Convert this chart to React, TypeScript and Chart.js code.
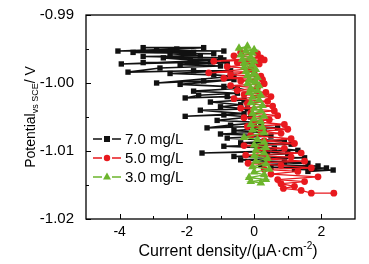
import { useEffect, useRef } from 'react';
import { Chart, registerables } from 'chart.js';
Chart.register(...registerables);

const FONT = '"Liberation Sans", Arial, sans-serif';

// 7.0 mg/L
const blackX = [-3.3, -1.5, -2.3, -4.05, -0.9, -2.9, -1.8, -3.6, -1.2, -2.5, -1.6, -3.3, -1.0, -2.7, -1.9, -0.9, -3.95, -1.3, -3.3, -0.8, -2.2, -1.0, -2.8, -3.75, -1.8, -0.7, -2.5, -1.2, -0.6, -2.9, -1.5, -0.6, -2.2, -0.9, -0.5, -1.8, -0.5, -1.65, -2.05, -0.8, -0.3, -1.3, -0.4, -1.0, -0.2, -1.6, -0.3, -2.05, -0.9, -0.1, -1.1, 0.2, -0.7, -1.4, 0.0, 0.7, -0.6, 0.3, -1.0, 0.5, -0.8, 0.9, -0.4, 1.1, -0.9, 0.6, 1.3, -1.55, 0.4, 1.0, -0.6, 1.5, -0.4, 0.9, 1.6, 0.2, 1.9, 0.5, 2.15, 1.2, 2.35, 1.6];
const blackY = [-0.9948, -0.9948, -0.9950, -0.9953, -0.9953, -0.9952, -0.9955, -0.9955, -0.9957, -0.9957, -0.9960, -0.9961, -0.9963, -0.9963, -0.9966, -0.9966, -0.9972, -0.9969, -0.9970, -0.9970, -0.9973, -0.9975, -0.9978, -0.9984, -0.9982, -0.9982, -0.9986, -0.9988, -0.9990, -1.0000, -0.9997, -0.9995, -1.0002, -1.0005, -1.0008, -1.0012, -1.0015, -1.0018, -1.0022, -1.0020, -1.0025, -1.0028, -1.0032, -1.0035, -1.0038, -1.0040, -1.0045, -1.0049, -1.0047, -1.0050, -1.0055, -1.0058, -1.0062, -1.0066, -1.0064, -1.0066, -1.0070, -1.0072, -1.0075, -1.0078, -1.0081, -1.0085, -1.0088, -1.0090, -1.0093, -1.0096, -1.0099, -1.0103, -1.0101, -1.0104, -1.0108, -1.0110, -1.0113, -1.0116, -1.0118, -1.0120, -1.0122, -1.0124, -1.0125, -1.0127, -1.0128, -1.0130];

// 5.0 mg/L
const redX = [-0.4, 0.1, -0.6, 0.2, -1.2, 0.3, -0.5, 0.15, -0.8, -0.1, -1.35, 0.0, -0.7, 0.2, -0.9, 0.25, -0.4, 0.3, -0.7, 0.1, -0.5, 0.35, -0.3, 0.5, -0.6, 0.4, -0.2, 0.55, -0.4, 0.6, -0.1, 0.7, -0.3, 0.45, 0.0, 0.9, -0.2, 1.0, 0.2, 0.8, -0.1, 1.1, 0.3, 1.2, -0.3, 0.9, 0.1, 1.4, -0.25, 1.1, 0.4, 1.5, -0.18, 0.8, 1.7, 0.3, 1.3, 0.5, 1.9, 0.7, 1.5, 0.8, 1.2, 0.87, 1.4, 1.7, 2.37];
const redY = [-0.9955, -0.9957, -0.9960, -0.9963, -0.9968, -0.9966, -0.9970, -0.9972, -0.9976, -0.9979, -0.9985, -0.9983, -0.9988, -0.9990, -0.9993, -0.9995, -0.9997, -1.0001, -1.0004, -1.0007, -1.0011, -1.0014, -1.0017, -1.0020, -1.0023, -1.0027, -1.0030, -1.0034, -1.0037, -1.0041, -1.0044, -1.0048, -1.0051, -1.0054, -1.0057, -1.0061, -1.0064, -1.0068, -1.0071, -1.0074, -1.0077, -1.0082, -1.0085, -1.0089, -1.0092, -1.0096, -1.0099, -1.0103, -1.0106, -1.0109, -1.0112, -1.0115, -1.0118, -1.0121, -1.0125, -1.0127, -1.0130, -1.0134, -1.0138, -1.0142, -1.0145, -1.0148, -1.0152, -1.0155, -1.0158, -1.0162, -1.0162];

// 3.0 mg/L
const greenX = [-0.2, -0.45, 0.0, -0.25, -0.05, -0.4, -0.1, -0.35, 0.0, -0.3, -0.05, -0.3, 0.05, -0.25, 0.0, -0.2, 0.1, -0.15, 0.05, -0.2, 0.15, -0.1, 0.1, -0.15, 0.2, -0.05, 0.15, -0.1, 0.25, 0.0, 0.2, -0.05, 0.3, 0.0, 0.2, -0.1, 0.25, -0.05, 0.3, -0.3, 0.1, 0.3, 0.0, 0.35, 0.05, 0.3, 0.0, 0.4, 0.05, 0.35, -0.05, 0.45, 0.0, 0.3, -0.15, 0.35, -0.1, 0.2];
const greenY = [-0.9946, -0.9949, -0.9951, -0.9953, -0.9956, -0.9959, -0.9962, -0.9965, -0.9968, -0.9971, -0.9974, -0.9977, -0.9980, -0.9983, -0.9986, -0.9989, -0.9992, -0.9995, -0.9998, -1.0001, -1.0004, -1.0008, -1.0011, -1.0014, -1.0018, -1.0021, -1.0025, -1.0029, -1.0033, -1.0037, -1.0041, -1.0045, -1.0049, -1.0053, -1.0057, -1.0061, -1.0065, -1.0069, -1.0073, -1.0080, -1.0083, -1.0087, -1.0091, -1.0095, -1.0099, -1.0103, -1.0107, -1.0111, -1.0115, -1.0119, -1.0123, -1.0127, -1.0131, -1.0135, -1.0139, -1.0142, -1.0145, -1.0147];

const seriesLabels = ['7.0 mg/L', '5.0 mg/L', '3.0 mg/L'];
const seriesColors = ['#111111', '#e8191e', '#6cb52d'];
const seriesShapes = ['rect', 'circle', 'triangle'];
const xTicks = [-4, -2, 0, 2];
const xMinor = [-3, -1, 1];
const yTicks = [-1.02, -1.01, -1.0, -0.99];
const yMinor = [-1.015, -1.005, -0.995];

const zip = (xs: number[], ys: number[]) => xs.map((x, i) => ({ x, y: ys[i] }));

const decor = {
  id: 'decor',
  afterDraw(chart: any) {
    const { ctx, chartArea: a, scales } = chart;
    const xs = scales.x, ys = scales.y;
    ctx.save();
    ctx.strokeStyle = '#000';
    ctx.lineWidth = 1.3;
    ctx.strokeRect(a.left, a.top, a.right - a.left, a.bottom - a.top);
    ctx.lineWidth = 1;
    ctx.beginPath();
    for (const t of xTicks) { const p = Math.round(xs.getPixelForValue(t)) + 0.5; ctx.moveTo(p, a.bottom); ctx.lineTo(p, a.bottom - 5); }
    for (const t of xMinor) { const p = Math.round(xs.getPixelForValue(t)) + 0.5; ctx.moveTo(p, a.bottom); ctx.lineTo(p, a.bottom - 3); }
    for (const t of yTicks) { const p = Math.round(ys.getPixelForValue(t)) + 0.5; ctx.moveTo(a.left, p); ctx.lineTo(a.left + 5, p); }
    for (const t of yMinor) { const p = Math.round(ys.getPixelForValue(t)) + 0.5; ctx.moveTo(a.left, p); ctx.lineTo(a.left + 3, p); }
    ctx.stroke();

    // x title
    ctx.fillStyle = '#000';
    ctx.textBaseline = 'alphabetic';
    const main = 'Current density/(\u03bcA\u00b7cm';
    ctx.font = `16px ${FONT}`;
    const w1 = ctx.measureText(main).width;
    ctx.font = `10px ${FONT}`;
    const w2 = ctx.measureText('-2').width;
    ctx.font = `16px ${FONT}`;
    const w3 = ctx.measureText(')').width;
    const x0 = 228 - (w1 + w2 + w3) / 2;
    const by = 256;
    ctx.textAlign = 'left';
    ctx.fillText(main, x0, by);
    ctx.font = `10px ${FONT}`;
    ctx.fillText('-2', x0 + w1, by - 7);
    ctx.font = `16px ${FONT}`;
    ctx.fillText(')', x0 + w1 + w2, by);

    // y title
    ctx.save();
    ctx.translate(35, 117);
    ctx.rotate(-Math.PI / 2);
    ctx.font = `14px ${FONT}`;
    const t1 = 'Potential';
    const a1 = ctx.measureText(t1).width;
    ctx.font = `9px ${FONT}`;
    const t2 = 'vs SCE';
    const a2 = ctx.measureText(t2).width;
    ctx.font = `14px ${FONT}`;
    const t3 = '/ V';
    const a3 = ctx.measureText(t3).width;
    const sx = -(a1 + a2 + a3) / 2;
    ctx.fillText(t1, sx, 0);
    ctx.font = `9px ${FONT}`;
    ctx.fillText(t2, sx + a1, 3);
    ctx.font = `14px ${FONT}`;
    ctx.fillText(t3, sx + a1 + a2, 0);
    ctx.restore();

    // legend
    const rows = [139, 158, 177];
    rows.forEach((ry, i) => {
      ctx.strokeStyle = seriesColors[i];
      ctx.lineWidth = 1.3;
      ctx.beginPath();
      ctx.moveTo(93, ry); ctx.lineTo(102, ry);
      ctx.moveTo(112, ry); ctx.lineTo(121, ry);
      ctx.stroke();
      ctx.fillStyle = seriesColors[i];
      ctx.beginPath();
      if (i === 0) {
        ctx.rect(104, ry - 3, 6, 6);
      } else if (i === 1) {
        ctx.arc(107, ry, 3.2, 0, Math.PI * 2);
      } else {
        ctx.moveTo(107, ry - 4.5); ctx.lineTo(111, ry + 2.5); ctx.lineTo(103, ry + 2.5); ctx.closePath();
      }
      ctx.fill();
      ctx.fillStyle = '#000';
      ctx.font = `15px ${FONT}`;
      ctx.textAlign = 'left';
      ctx.textBaseline = 'middle';
      ctx.fillText(seriesLabels[i], 125, ry + 1);
    });
    ctx.restore();
  },
};

export default function App() {
  const ref = useRef<HTMLCanvasElement>(null);
  useEffect(() => {
    Chart.defaults.font.family = FONT;
    const data = [zip(blackX, blackY), zip(redX, redY), zip(greenX, greenY)];
    const chart = new Chart(ref.current!, {
      type: 'line',
      data: {
        datasets: data.map((d, i) => ({
          label: seriesLabels[i],
          data: d,
          borderColor: seriesColors[i],
          backgroundColor: seriesColors[i],
          borderWidth: i === 0 ? 1.6 : 1.3,
          pointStyle: seriesShapes[i] as any,
          pointRadius: i === 0 ? 3.8 : i === 1 ? 3.4 : 5,
          pointBorderWidth: 0,
          tension: 0,
          order: 3 - i,
        })),
      },
      options: {
        animation: false,
        responsive: false,
        parsing: false as any,
        layout: { padding: { top: 15, right: 14, left: 0, bottom: 0 } },
        plugins: { legend: { display: false }, tooltip: { enabled: false } },
        scales: {
          x: {
            type: 'linear',
            min: -5,
            max: 3,
            grid: { display: false },
            border: { display: false },
            afterFit: (s: any) => { s.height = 45; },
            afterBuildTicks: (s: any) => { s.ticks = xTicks.map((v) => ({ value: v })); },
            ticks: { color: '#000', font: { size: 14 }, padding: -3, maxRotation: 0, callback: (v: any) => String(v) },
          },
          y: {
            type: 'linear',
            min: -1.02,
            max: -0.99,
            grid: { display: false },
            border: { display: false },
            afterFit: (s: any) => { s.width = 86; },
            afterBuildTicks: (s: any) => { s.ticks = yTicks.map((v) => ({ value: v })); },
            ticks: { color: '#000', font: { size: 15 }, padding: 4, callback: (v: any) => Number(v).toFixed(2) },
          },
        },
      },
      plugins: [decor],
    });
    return () => chart.destroy();
  }, []);
  return (
    <div style={{ position: 'absolute', left: 0, top: 0, width: 369, height: 264, background: '#fff' }}>
      <canvas ref={ref} width={369} height={264} />
    </div>
  );
}
